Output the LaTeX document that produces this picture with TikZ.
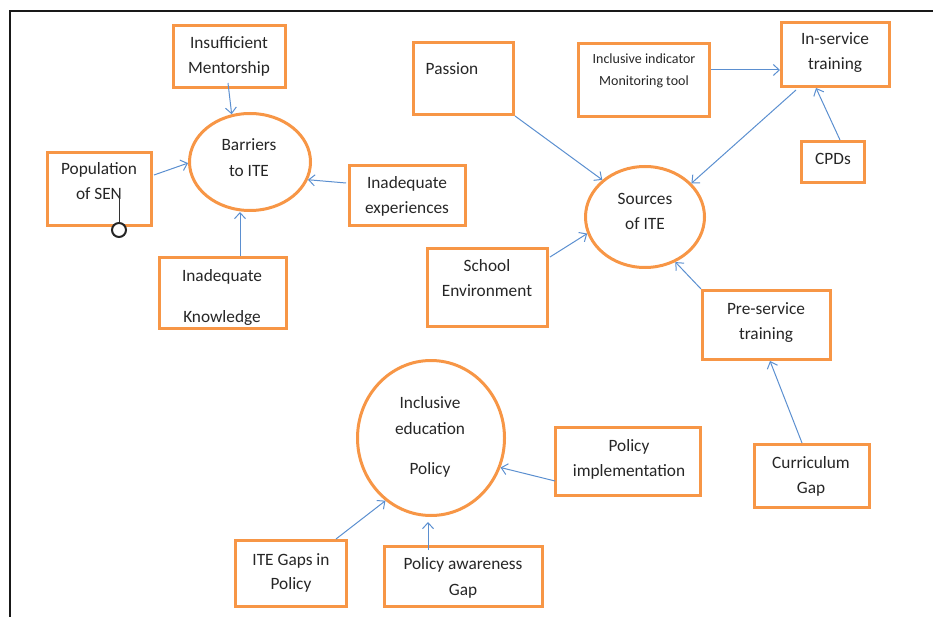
\documentclass[tikz,border=0pt]{standalone}
\usepackage{fontspec}
\setmainfont{Carlito}
\usetikzlibrary{shapes.geometric,arrows.meta,calc}
\definecolor{orng}{HTML}{F79646}
\definecolor{arrblue}{HTML}{5B8FD0}
\definecolor{txtc}{HTML}{262626}
\begin{document}
\begin{tikzpicture}[x=1pt,y=-1pt,
  box/.style={draw=orng,line width=3pt,rectangle,inner sep=0pt},
  oval/.style={draw=orng,line width=3pt,ellipse,inner sep=0pt},
  lbl/.style={anchor=base,font=\fontsize{17.3}{25}\selectfont,text=txtc,inner sep=0pt},
  slbl/.style={anchor=base,font=\fontsize{14}{22}\selectfont,text=txtc,inner sep=0pt},
  arr/.style={draw=arrblue,line width=1pt,-{Straight Barb[length=6pt,width=11pt]}}]
\useasboundingbox (0,0) rectangle (933,617);
\draw[line width=2pt,black!90] (933,11) -- (10,11) -- (10,617);

% labels drawn first so box borders lie over them
\node[lbl] (know1) at (222,282) {Inadequate};
\begin{scope}
\clip (158,256) rectangle (288,327.5);
\node[lbl] (know2) at (222,322) {Knowledge};
\end{scope}

% boxes
\node[box,minimum width=112pt,minimum height=62pt] (ment) at (229.5,56.5) {};
\node[box,minimum width=104pt,minimum height=73pt] (pop) at (99.5,189) {};
\node[box,minimum width=116pt,minimum height=60pt] (inexp) at (407.5,195.5) {};
\node[box,minimum width=127pt,minimum height=71pt] (know) at (223,293) {};
\node[box,minimum width=100pt,minimum height=72pt] (passion) at (463.5,78.5) {};
\node[box,minimum width=131pt,minimum height=73pt] (indic) at (644,80) {};
\node[box,minimum width=108pt,minimum height=64pt] (inserv) at (835.5,54.5) {};
\node[box,minimum width=63pt,minimum height=41pt] (cpd) at (833,162) {};
\node[box,minimum width=120pt,minimum height=78pt] (school) at (487.5,287.5) {};
\node[box,minimum width=128pt,minimum height=69pt] (preserv) at (766.5,325) {};
\node[box,minimum width=115pt,minimum height=63pt] (curric) at (812,476) {};
\node[box,minimum width=145pt,minimum height=68pt] (polimp) at (628,461.5) {};
\node[box,minimum width=111pt,minimum height=66pt] (itegap) at (291,573.5) {};
\node[box,minimum width=158pt,minimum height=60pt] (polaw) at (463.5,576.5) {};

% ellipses
\node[oval,minimum width=121pt,minimum height=97pt] (barr) at (250,162) {};
\node[oval,minimum width=119pt,minimum height=101pt] (src) at (645,217) {};
\node[oval,minimum width=147pt,minimum height=155pt] (iep) at (431,438) {};

% labels
\node[lbl] (ment1) at (229,49) {Insufficient};
\node[lbl] (ment2) at (229,74) {Mentorship};
\node[lbl] (pop1) at (99,175) {Population};
\node[lbl] (pop2) at (99,200) {of SEN};
\node[lbl] (inexp1) at (407,189) {Inadequate};
\node[lbl] (inexp2) at (407,214) {experiences};
\node[lbl] (passion1) at (452,75) {Passion};
\node[slbl] (indic1) at (644,64) {Inclusive indicator};
\node[slbl] (indic2) at (644,86) {Monitoring tool};
\node[lbl] (inserv1) at (835,45) {In-service};
\node[lbl] (inserv2) at (835,70) {training};
\node[lbl] (cpd1) at (833,165) {CPDs};
\node[lbl] (barr1) at (249,151) {Barriers};
\node[lbl] (barr2) at (249,177) {to ITE};
\node[lbl] (src1) at (645,205) {Sources};
\node[lbl] (src2) at (645,230) {of ITE};
\node[lbl] (school1) at (487,272) {School};
\node[lbl] (school2) at (487,297) {Environment};
\node[lbl] (preserv1) at (766,314) {Pre-service};
\node[lbl] (preserv2) at (766,339) {training};
\node[lbl] (curric1) at (811,468) {Curriculum};
\node[lbl] (curric2) at (811,493) {Gap};
\node[lbl] (iep1) at (430,408) {Inclusive};
\node[lbl] (iep2) at (430,434) {education};
\node[lbl] (iep3) at (430,474) {Policy};
\node[lbl] (polimp1) at (629,451) {Policy};
\node[lbl] (polimp2) at (629,476) {implementation};
\node[lbl] (itegap1) at (291,565) {ITE Gaps in};
\node[lbl] (itegap2) at (291,589) {Policy};
\node[lbl] (polaw1) at (463,569) {Policy awareness};
\node[lbl] (polaw2) at (463,595) {Gap};

% marker
\node[circle,draw=black!85,line width=2pt,minimum size=14pt,inner sep=0pt,fill=white] (mk) at (119,230) {};
\coordinate (mktop) at (119,193);
\draw[black!80,line width=1pt] (mk.north) -- (mktop);

% arrows
\draw[arr] ([shift={(-1.5,-6)}]ment.south) -- (barr.111);
\draw[arr] ([shift={(1,-14)}]pop.east) -- (barr.181);
\draw[arr] ([shift={(-2,-12.5)}]inexp.west) -- (barr.-17);
\draw[arr] ([shift={(17,0)}]know.north) -- ([shift={(17,0)}]know.north |- barr.south);
\draw[arr] (passion.south east) -- (src.139);
\draw[arr] ([shift={(0,-10)}]indic.east) -- ([shift={(0,-10)}]indic.east -| inserv.west);
\draw[arr] ([shift={(16,2)}]inserv.south west) -- (src.36);
\draw[arr] ([shift={(7,0)}]cpd.north) -- ([shift={(-19.5,0)}]inserv.south);
\draw[arr] ([shift={(1,10)}]school.north east) -- (src.196);
\draw[arr] (preserv.north west) -- (src.-56);
\draw[arr] ([shift={(-10,0)}]curric.north) -- ([shift={(3.5,0)}]preserv.south);
\draw[arr] ([shift={(1,19.5)}]polimp.west) -- (iep.-23);
\draw[arr] ([shift={(45,0)}]itegap.north) -- (iep.-126);
\draw[arr] ([shift={(-35.5,5)}]polaw.north) -- ([shift={(-35.5,5)}]polaw.north |- iep.south);
\end{tikzpicture}
\end{document}
